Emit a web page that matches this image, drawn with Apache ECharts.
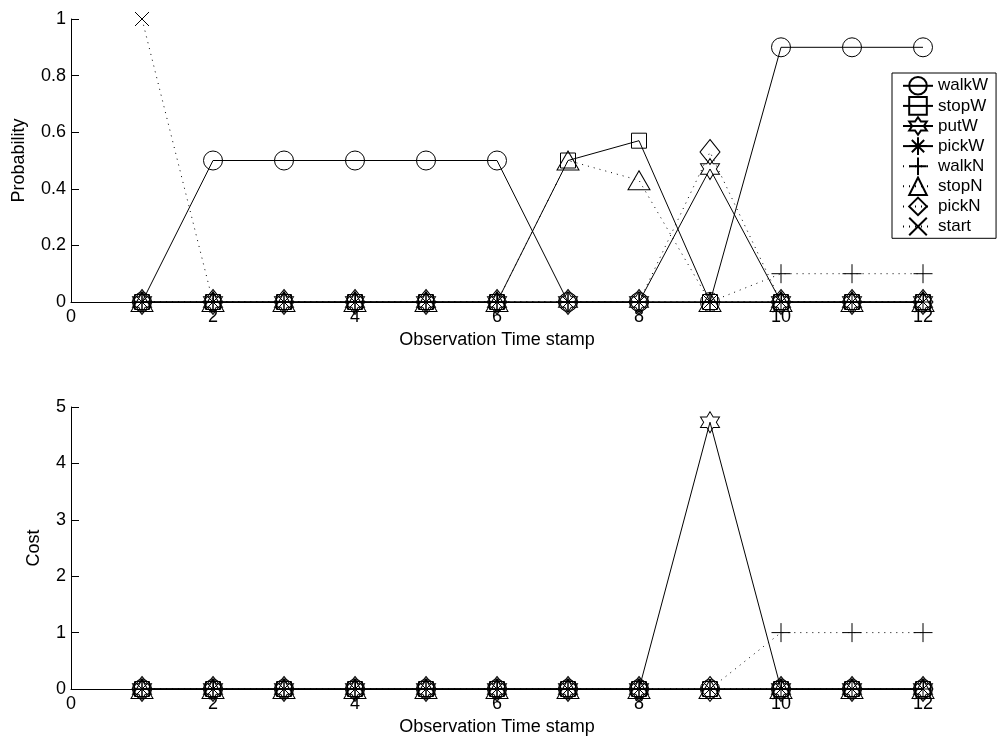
<!DOCTYPE html>
<html>
<head>
<meta charset="utf-8">
<script src="https://cdn.jsdelivr.net/npm/echarts@6/dist/echarts.min.js"></script>
<style>
html,body{margin:0;padding:0;background:#fff;}
#chart{width:1008px;height:744px;}
</style>
</head>
<body>
<div id="chart"></div>
<script>
// ---- data ----
const timeStamps = [1, 2, 3, 4, 5, 6, 7, 8, 9, 10, 11, 12];
const seriesNames = ['walkW', 'stopW', 'putW', 'pickW', 'walkN', 'stopN', 'pickN', 'start'];

const probWalkW = [0, 0.5, 0.5, 0.5, 0.5, 0.5, 0, 0, 0, 0.9, 0.9, 0.9];
const probStopW = [0, 0, 0, 0, 0, 0, 0.5, 0.57, 0, 0, 0, 0];
const probPutW  = [0, 0, 0, 0, 0, 0, 0, 0, 0.47, 0, 0, 0];
const probPickW = [0, 0, 0, 0, 0, 0, 0, 0, 0, 0, 0, 0];
const probWalkN = [0, 0, 0, 0, 0, 0, 0, 0, 0, 0.1, 0.1, 0.1];
const probStopN = [0, 0, 0, 0, 0, 0, 0.5, 0.43, 0, 0, 0, 0];
const probPickN = [0, 0, 0, 0, 0, 0, 0, 0, 0.53, 0, 0, 0];
const probStart = [1, 0, 0, 0, 0, 0, 0, 0, 0, 0, 0, 0];

const costWalkW = [0, 0, 0, 0, 0, 0, 0, 0, 0, 0, 0, 0];
const costStopW = [0, 0, 0, 0, 0, 0, 0, 0, 0, 0, 0, 0];
const costPutW  = [0, 0, 0, 0, 0, 0, 0, 0, 4.73, 0, 0, 0];
const costPickW = [0, 0, 0, 0, 0, 0, 0, 0, 0, 0, 0, 0];
const costWalkN = [0, 0, 0, 0, 0, 0, 0, 0, 0, 1, 1, 1];
const costStopN = [0, 0, 0, 0, 0, 0, 0, 0, 0, 0, 0, 0];
const costPickN = [0, 0, 0, 0, 0, 0, 0, 0, 0, 0, 0, 0];
const costStart = [0, 0, 0, 0, 0, 0, 0, 0, 0, 0, 0, 0];

const probValues = [probWalkW, probStopW, probPutW, probPickW, probWalkN, probStopN, probPickN, probStart];
const costValues = [costWalkW, costStopW, costPutW, costPickW, costWalkN, costStopN, costPickN, costStart];

// ---- styles ----
const FONT = "'Liberation Sans', Arial, Helvetica, sans-serif";
const hexagram = 'path://M50,0 L64.43,25 L93.3,25 L78.87,50 L93.3,75 L64.43,75 L50,100 L35.57,75 L6.7,75 L21.13,50 L6.7,25 L35.57,25 Z';
const asterisk = 'path://M50,0 L50,100 M0,50 L100,50 M15,15 L85,85 M85,15 L15,85';
const plusSym = 'path://M50,0 L50,100 M0,50 L100,50';
const crossSym = 'path://M0,0 L100,100 M100,0 L0,100';
const symbolDefs = [
  {symbol: 'circle', size: 19},
  {symbol: 'rect', size: 15},
  {symbol: hexagram, size: [19, 21]},
  {symbol: asterisk, size: 19},
  {symbol: plusSym, size: 19},
  {symbol: 'triangle', size: [22, 19]},
  {symbol: 'diamond', size: [20, 25]},
  {symbol: crossSym, size: 14}
];
const lineTypes = ['solid', 'solid', 'solid', 'solid', [1, 5], [1, 5], [1, 5], [1, 5]];

function makeSeries(values, axisIdx) {
  return seriesNames.map((name, i) => ({
    name: name,
    type: 'line',
    xAxisIndex: axisIdx,
    yAxisIndex: axisIdx,
    data: timeStamps.map((t, j) => [t, values[i][j]]),
    symbol: symbolDefs[i].symbol,
    symbolSize: symbolDefs[i].size,
    showSymbol: true,
    showAllSymbol: true,
    itemStyle: {color: 'rgba(0,0,0,0)', borderColor: '#000', borderWidth: 1},
    lineStyle: {color: '#000', width: 1, type: lineTypes[i]},
    emphasis: {disabled: true},
    z: 2 + i
  }));
}

function xAxisDef(gridIdx) {
  return {
    type: 'value', gridIndex: gridIdx, min: 0, max: 12, interval: 2,
    name: 'Observation Time stamp', nameLocation: 'middle', nameGap: 29,
    nameTextStyle: {color: '#000', fontSize: 18, fontFamily: FONT},
    axisLine: {show: true, onZero: false, lineStyle: {color: '#000', width: 1}},
    axisTick: {show: true, inside: true, length: 8, lineStyle: {color: '#000'}},
    axisLabel: {color: '#000', fontSize: 18, fontFamily: FONT, margin: 6},
    splitLine: {show: false}
  };
}

function yAxisDef(gridIdx, name, max, interval, gap) {
  return {
    type: 'value', gridIndex: gridIdx, min: 0, max: max, interval: interval,
    name: name, nameLocation: 'middle', nameGap: gap,
    nameTextStyle: {color: '#000', fontSize: 18, fontFamily: FONT},
    axisLine: {show: true, onZero: false, lineStyle: {color: '#000', width: 1}},
    axisTick: {show: true, inside: true, length: 8, lineStyle: {color: '#000'}},
    axisLabel: {color: '#000', fontSize: 18, fontFamily: FONT, margin: 5},
    splitLine: {show: false}
  };
}

const chart = echarts.init(document.getElementById('chart'), null, {renderer: 'canvas'});
chart.setOption({
  animation: false,
  backgroundColor: '#fff',
  grid: [
    {left: 71, top: 19, width: 852, height: 283, containLabel: false},
    {left: 71, top: 407, width: 852, height: 282, containLabel: false}
  ],
  xAxis: [xAxisDef(0), xAxisDef(1)],
  yAxis: [yAxisDef(0, 'Probability', 1, 0.2, 43), yAxisDef(1, 'Cost', 5, 1, 28)],
  legend: {
    data: seriesNames,
    orient: 'vertical',
    left: 892, top: 73,
    itemWidth: 30, itemHeight: 22, itemGap: 0.5,
    padding: [3, 8, 2, 10],
    backgroundColor: '#fff',
    borderColor: '#000', borderWidth: 1, borderRadius: 0,
    selectedMode: false,
    textStyle: {color: '#000', fontSize: 17, fontFamily: FONT}
  },
  series: makeSeries(probValues, 0).concat(makeSeries(costValues, 1))
});
</script>
</body>
</html>
